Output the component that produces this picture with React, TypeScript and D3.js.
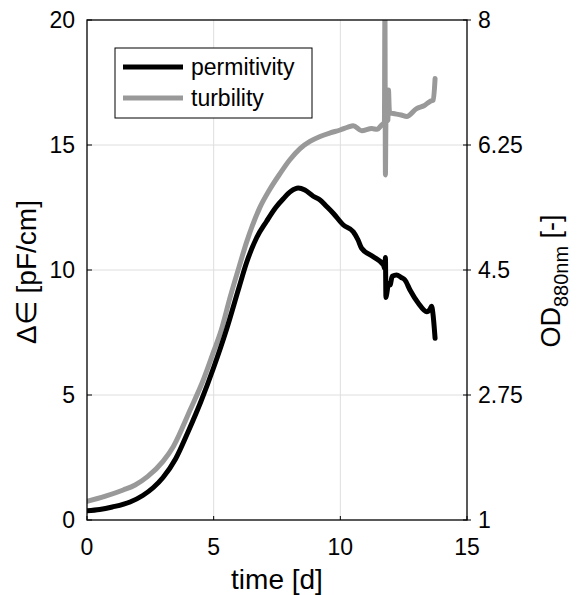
import React from "react";
import * as d3 from "d3";

// Permittivity (left axis, pF/cm)
const permTime = [0, 0.5, 1.0, 1.7, 2.2, 2.62, 3.0, 3.5, 4.0, 4.5, 5.0, 5.5, 6.0, 6.3, 6.7, 7.09, 7.45, 7.75, 8.05, 8.34, 8.6, 8.93, 9.2, 9.45, 9.72, 10.12, 10.51, 10.7, 10.84, 11.3, 11.7, 11.76, 11.78, 11.8, 11.84, 11.9, 11.96, 12.05, 12.22, 12.4, 12.55, 12.75, 13.08, 13.41, 13.55, 13.6, 13.65, 13.74];
const permValue = [0.37, 0.42, 0.52, 0.72, 0.98, 1.3, 1.7, 2.45, 3.55, 4.75, 6.1, 7.6, 9.3, 10.3, 11.3, 11.95, 12.5, 12.85, 13.15, 13.28, 13.2, 12.95, 12.8, 12.55, 12.27, 11.8, 11.53, 11.2, 10.87, 10.53, 10.2, 10.05, 10.5, 8.9, 9.1, 9.45, 9.4, 9.75, 9.8, 9.7, 9.6, 9.2, 8.67, 8.33, 8.45, 8.55, 8.3, 7.27];

// Turbidity (right axis, OD880nm)
const turbTime = [0, 0.7, 1.43, 1.9, 2.4, 3.0, 3.41, 4.07, 4.59, 5.0, 5.3, 5.65, 6.0, 6.3, 6.83, 7.2, 7.62, 8.0, 8.41, 8.8, 9.2, 9.6, 9.99, 10.3, 10.51, 10.84, 11.24, 11.45, 11.63, 11.74, 11.76, 11.78, 11.8, 11.88, 11.9, 11.93, 11.95, 12.09, 12.4, 12.62, 13.01, 13.3, 13.54, 13.67, 13.74];
const turbValue = [1.26, 1.33, 1.42, 1.49, 1.61, 1.82, 2.03, 2.54, 2.96, 3.36, 3.66, 4.12, 4.54, 4.89, 5.38, 5.62, 5.85, 6.04, 6.2, 6.3, 6.37, 6.42, 6.46, 6.5, 6.52, 6.45, 6.48, 6.47, 6.53, 6.57, 8.2, 5.83, 6.57, 6.6, 7.02, 6.75, 6.7, 6.69, 6.67, 6.65, 6.76, 6.8, 6.86, 6.88, 7.18];

const xTicks = [0, 5, 10, 15];
const yLeftTicks = [0, 5, 10, 15, 20];
const yRightTicks = [1, 2.75, 4.5, 6.25, 8];
const legendLabels = ["permitivity", "turbility"];
const seriesColors = ["#000000", "#999999"];

const W = 579;
const H = 595;
const M = { left: 87, right: 467, top: 20, bottom: 520 };
const FONT = "'Liberation Sans', Arial, sans-serif";

export default function App() {
  const x = d3.scaleLinear().domain([0, 15]).range([M.left, M.right]);
  const yL = d3.scaleLinear().domain([0, 20]).range([M.bottom, M.top]);
  const yR = d3.scaleLinear().domain([1, 8]).range([M.bottom, M.top]);

  const permData = permTime.map((t, i) => [t, permValue[i]] as [number, number]);
  const turbData = turbTime.map((t, i) => [t, turbValue[i]] as [number, number]);

  const permLine = d3.line<[number, number]>().curve(d3.curveMonotoneX).x(d => x(d[0])).y(d => yL(d[1]))(permData) || "";
  const turbLine = d3.line<[number, number]>().curve(d3.curveMonotoneX).x(d => x(d[0])).y(d => yR(d[1]))(turbData) || "";

  const gridColor = "#dedede";

  return (
    <svg width={W} height={H} style={{ position: "absolute", left: 0, top: 0, background: "#fff" }}>
      <defs>
        <clipPath id="plotclip">
          <rect x={M.left} y={M.top} width={M.right - M.left} height={M.bottom - M.top} />
        </clipPath>
      </defs>
      <rect x={0} y={0} width={W} height={H} fill="#fff" />
      {xTicks.slice(1, -1).map(t => (
        <line key={"gx" + t} x1={x(t)} x2={x(t)} y1={M.top} y2={M.bottom} stroke={gridColor} strokeWidth={1} />
      ))}
      {yLeftTicks.slice(1, -1).map(t => (
        <line key={"gy" + t} x1={M.left} x2={M.right} y1={yL(t)} y2={yL(t)} stroke={gridColor} strokeWidth={1} />
      ))}

      <g clipPath="url(#plotclip)">
        <path d={turbLine} fill="none" stroke={seriesColors[1]} strokeWidth={5} strokeLinejoin="round" strokeLinecap="round" />
        <path d={permLine} fill="none" stroke={seriesColors[0]} strokeWidth={5} strokeLinejoin="round" strokeLinecap="round" />
      </g>

      <rect x={M.left} y={M.top} width={M.right - M.left} height={M.bottom - M.top} fill="none" stroke="#000" strokeWidth={1.3} />

      {xTicks.map(t => (
        <g key={"xt" + t}>
          <line x1={x(t)} x2={x(t)} y1={M.bottom} y2={M.bottom - 4} stroke="#000" strokeWidth={1} />
          <text x={x(t)} y={M.bottom + 35} textAnchor="middle" fontFamily={FONT} fontSize={23}>{t}</text>
        </g>
      ))}
      {yLeftTicks.map(t => (
        <g key={"yl" + t}>
          <line x1={M.left} x2={M.left + 5} y1={yL(t)} y2={yL(t)} stroke="#000" strokeWidth={1} />
          <text x={M.left - 12} y={yL(t)} dy="0.35em" textAnchor="end" fontFamily={FONT} fontSize={23}>{t}</text>
        </g>
      ))}
      {yRightTicks.map(t => (
        <g key={"yr" + t}>
          <line x1={M.right - 4} x2={M.right + 4} y1={yR(t)} y2={yR(t)} stroke="#000" strokeWidth={1} />
          <text x={M.right + 11} y={yR(t)} dy="0.35em" textAnchor="start" fontFamily={FONT} fontSize={23}>{t}</text>
        </g>
      ))}

      <text x={(M.left + M.right) / 2} y={589} textAnchor="middle" fontFamily={FONT} fontSize={28}>time [d]</text>
      <text transform={`translate(36, 272) rotate(-90)`} textAnchor="middle" fontFamily={FONT} fontSize={28}>Δ∈ [pF/cm]</text>
      <text transform={`translate(560, 281) rotate(-90)`} textAnchor="middle" fontFamily={FONT} fontSize={27}>
        OD<tspan dy={8} fontSize={20}>880nm</tspan><tspan dy={-8}> [-]</tspan>
      </text>

      <rect x={115} y={48} width={197} height={70} fill="#fff" stroke="#000" strokeWidth={1} />
      {legendLabels.map((lab, i) => (
        <g key={lab}>
          <line x1={123} x2={183} y1={67 + i * 31} y2={67 + i * 31} stroke={seriesColors[i]} strokeWidth={5} />
          <text x={191} y={67 + i * 31} dy="0.35em" fontFamily={FONT} fontSize={23}>{lab}</text>
        </g>
      ))}
    </svg>
  );
}
